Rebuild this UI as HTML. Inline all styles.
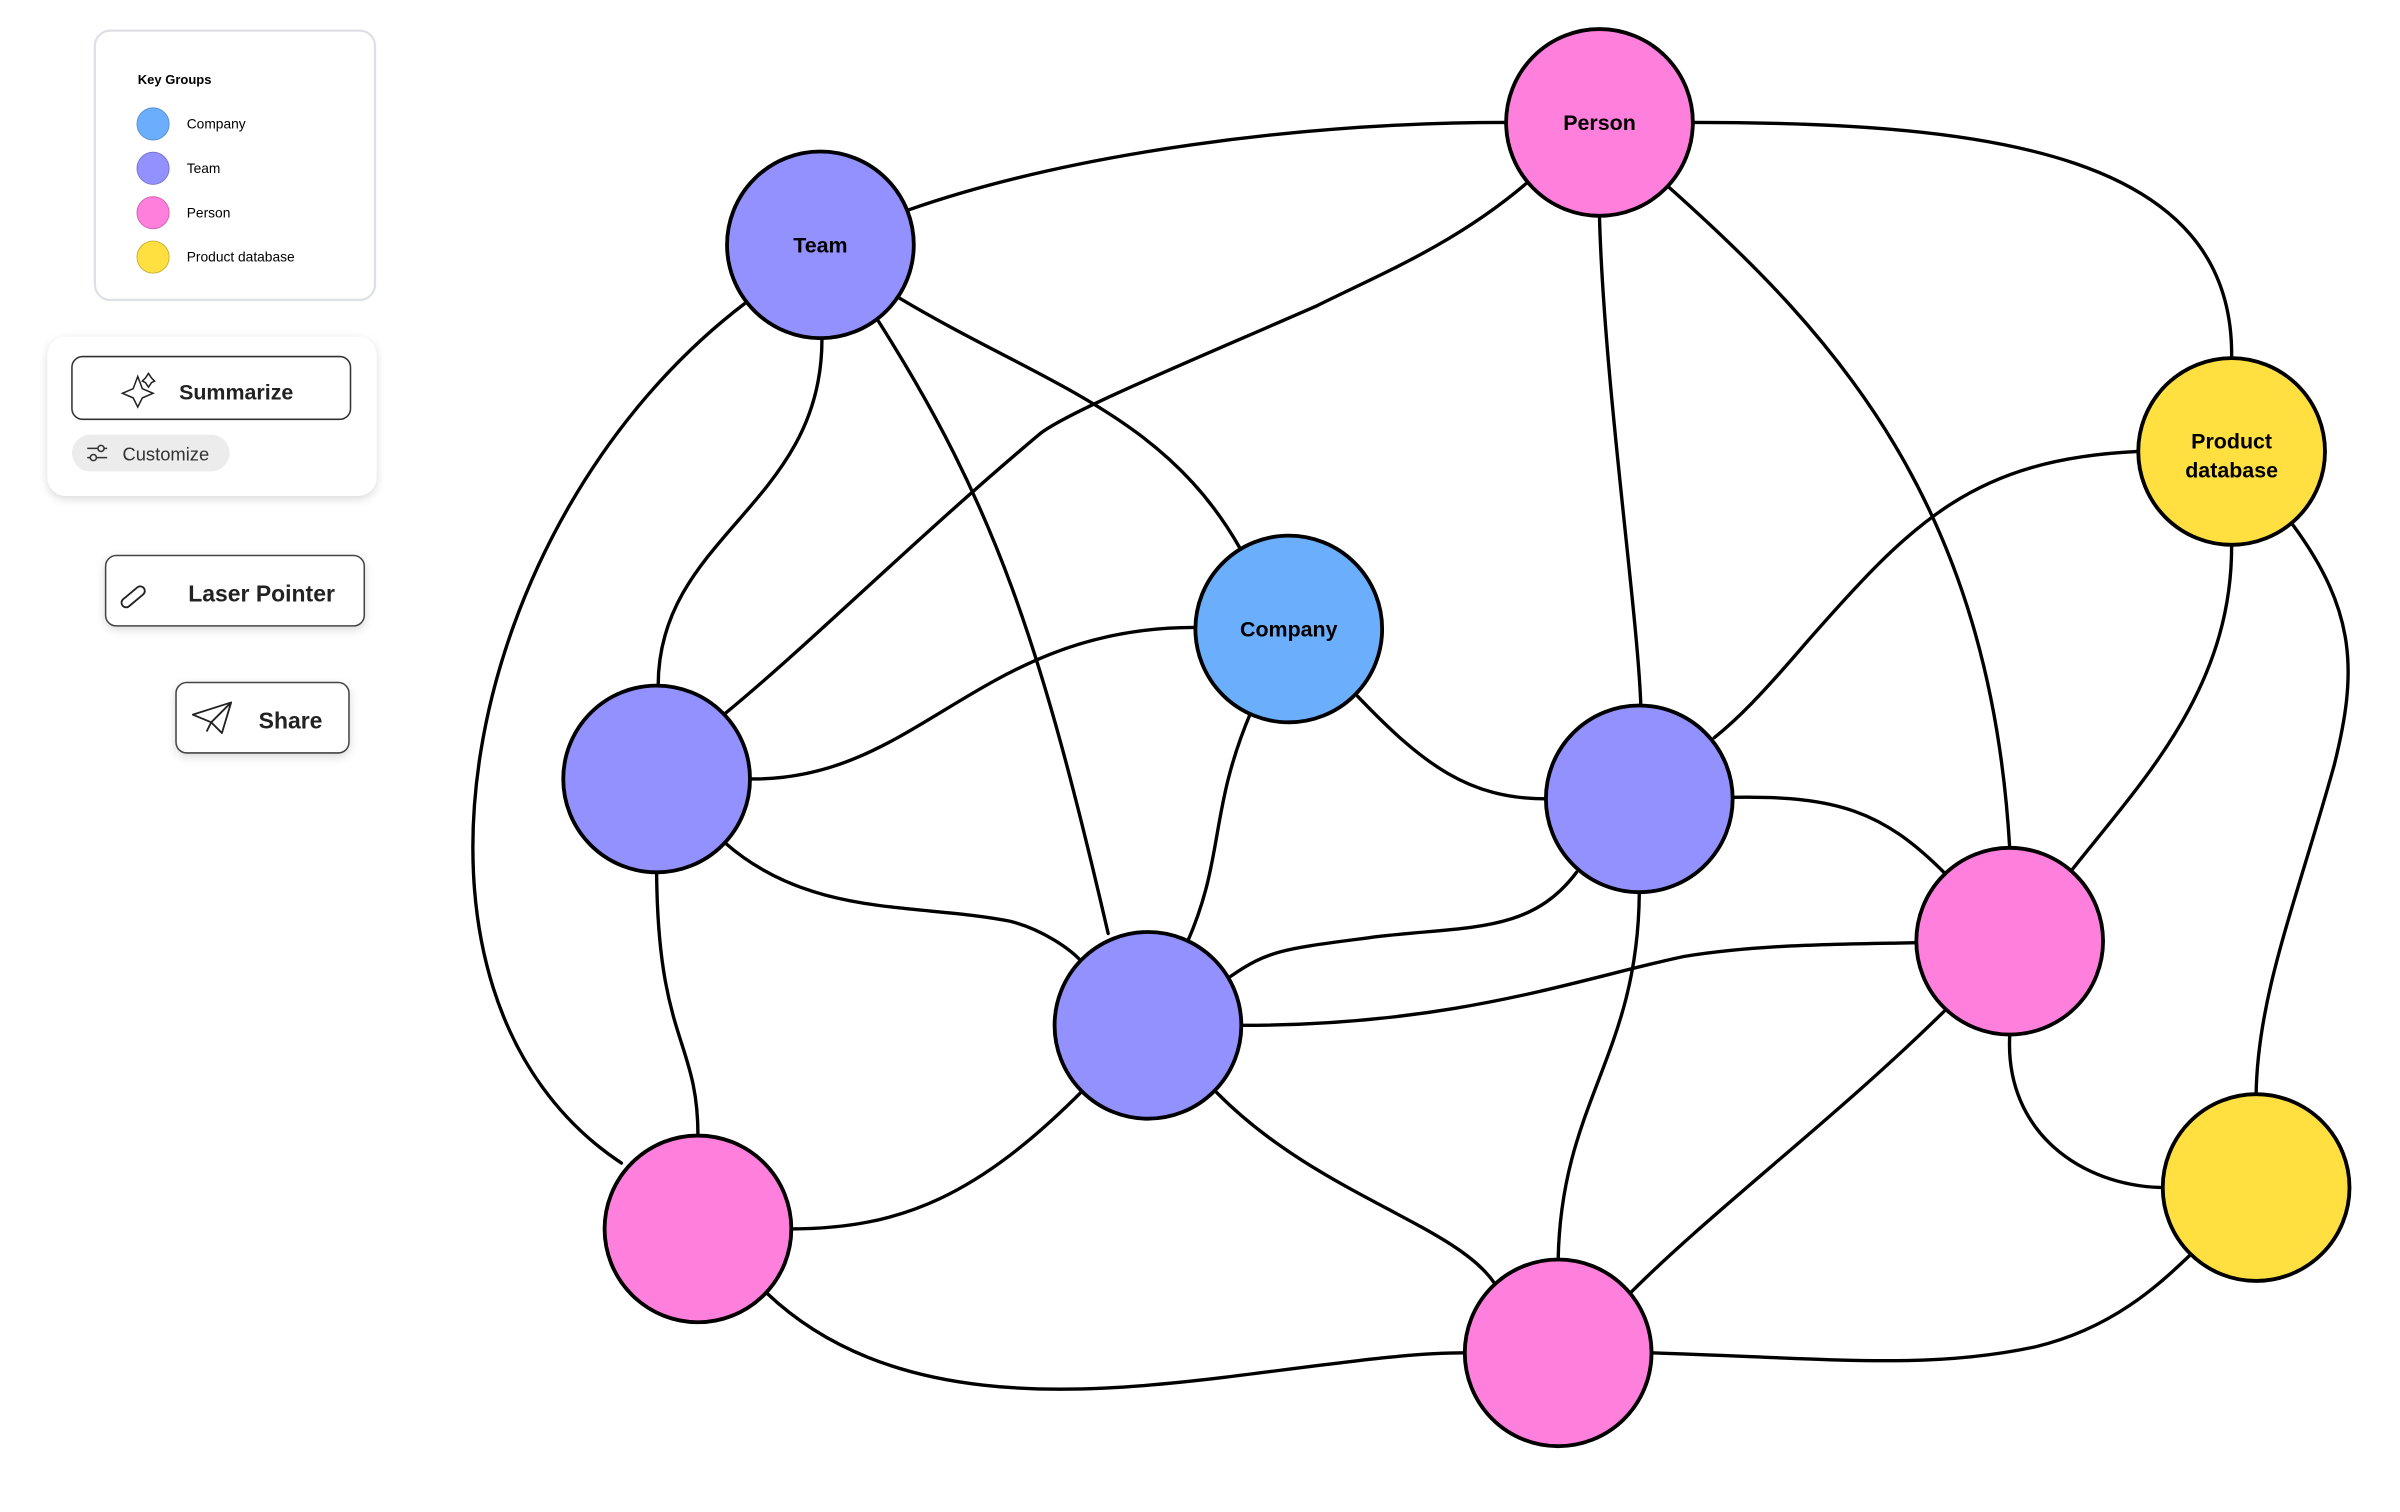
<!DOCTYPE html>
<html><head><meta charset="utf-8"><style>
html,body{margin:0;padding:0;background:#fff;width:2400px;height:1512px;overflow:hidden}
svg{display:block}
text{font-family:"Liberation Sans",sans-serif}
</style></head><body>
<svg width="2400" height="1512" viewBox="0 0 1568 988" preserveAspectRatio="none" xmlns="http://www.w3.org/2000/svg">
<defs>
<filter id="sh" x="-20%" y="-20%" width="140%" height="150%"><feDropShadow dx="0" dy="2" stdDeviation="3" flood-color="#000" flood-opacity="0.15"/></filter>
</defs>
<rect x="62" y="20" width="183" height="176" rx="10" fill="#fff" stroke="#dde1e6" stroke-width="1.5"/>
<text x="90" y="55" font-size="8.5" font-weight="bold">Key Groups</text>
<circle cx="100" cy="81" r="10.5" fill="#6aaefc" stroke="#5a8fd0" stroke-width="0.6"/>
<circle cx="100" cy="110" r="10.5" fill="#9391fd" stroke="#7774d0" stroke-width="0.6"/>
<circle cx="100" cy="139" r="10.5" fill="#ff80dc" stroke="#d060b0" stroke-width="0.6"/>
<circle cx="100" cy="168" r="10.5" fill="#ffe040" stroke="#c8b030" stroke-width="0.6"/>
<text x="122" y="84" font-size="9">Company</text>
<text x="122" y="113" font-size="9">Team</text>
<text x="122" y="142" font-size="9">Person</text>
<text x="122" y="171" font-size="9">Product database</text>

<rect x="31" y="220" width="215" height="104" rx="12" fill="#fff" filter="url(#sh)"/>
<rect x="47" y="233" width="182" height="41" rx="7" fill="#fff" stroke="#333" stroke-width="1"/>
<path d="M90,246 L93,254 L100,257 L93,260 L90,266 L87,260 L80,257 L87,254 Z" fill="none" stroke="#222" stroke-width="1"/>
<path d="M97,244 L99,247 L101,249 L99,250 L97,253 L95,250 L93,249 L95,247 Z" fill="none" stroke="#222" stroke-width="1"/>
<text x="117" y="261" font-size="14" font-weight="bold" fill="#222">Summarize</text>
<rect x="47" y="284" width="103" height="24" rx="12" fill="#ececec"/>
<path d="M57,293 H70 M57,299 H70" stroke="#333" stroke-width="1"/>
<circle cx="66" cy="293" r="2" fill="#ececec" stroke="#333" stroke-width="1"/>
<circle cx="61" cy="299" r="2" fill="#ececec" stroke="#333" stroke-width="1"/>
<text x="80" y="301" font-size="12" fill="#333">Customize</text>

<rect x="69" y="363" width="169" height="46" rx="7" fill="#fff" stroke="#444" stroke-width="1" filter="url(#sh)"/>
<rect x="78" y="387" width="18" height="6" rx="3" transform="rotate(-40 87 390)" fill="none" stroke="#222" stroke-width="1.2"/>
<text x="123" y="393" font-size="15" font-weight="bold" fill="#222">Laser Pointer</text>

<rect x="115" y="446" width="113" height="46" rx="7" fill="#fff" stroke="#444" stroke-width="1" filter="url(#sh)"/>
<path d="M126,467 L151,459 L145,479 L138,472 Z M138,472 L151,459 M138,472 L135,478" fill="none" stroke="#222" stroke-width="1.2" stroke-linejoin="round"/>
<text x="169" y="476" font-size="15" font-weight="bold" fill="#222">Share</text>

<g fill="none" stroke="#000" stroke-width="2.2" stroke-linecap="round">
<path d="M594,137 C700,100 850,80 985,80"/>
<path d="M1107,80 C1300,80 1460,100 1458,234"/>
<path d="M997,120 C950,160 900,180 860,200 C780,235 700,268 680,283 C600,350 530,420 474,466"/>
<path d="M1045,142 C1048,250 1070,400 1072,461"/>
<path d="M1090,122 C1200,220 1300,330 1313,554"/>
<path d="M537,222 C537,330 430,350 430,448"/>
<path d="M574,210 C650,330 680,420 724,610"/>
<path d="M588,195 C680,250 760,270 810,358"/>
<path d="M487,198 C300,340 240,650 406,760"/>
<path d="M491,509 C600,510 640,410 780,410"/>
<path d="M474,551 C530,600 600,590 660,602 C680,607 700,620 708,630"/>
<path d="M429,571 C430,680 456,680 456,742"/>
<path d="M817,466 C790,530 800,560 776,615"/>
<path d="M887,455 C930,500 960,522 1010,522"/>
<path d="M1397,295 C1290,300 1250,340 1180,420 C1150,455 1135,470 1120,482"/>
<path d="M1458,357 C1458,450 1400,510 1354,568"/>
<path d="M1498,343 C1540,400 1540,440 1525,500 C1500,590 1475,650 1474,715"/>
<path d="M1133,521 C1200,520 1230,530 1270,570"/>
<path d="M1030,570 C1000,610 960,605 900,612 C840,620 830,620 804,638"/>
<path d="M1071,584 C1070,690 1020,720 1018,823"/>
<path d="M812,670 C950,670 1030,640 1100,625 C1150,617 1200,617 1252,616"/>
<path d="M707,713 C640,780 590,803 517,803"/>
<path d="M795,714 C860,780 950,800 976,838"/>
<path d="M1313,677 C1310,740 1360,775 1413,776"/>
<path d="M1271,660 C1200,730 1120,790 1065,845"/>
<path d="M501,845 C580,920 700,912 800,900 C880,890 920,884 957,884"/>
<path d="M1079,884 C1200,888 1260,895 1330,880 C1380,868 1410,840 1431,820"/>
</g>

<g stroke="#000" stroke-width="2.5">
<circle cx="1045" cy="80" r="61" fill="#ff80dc"/>
<circle cx="536" cy="160" r="61" fill="#9391fd"/>
<circle cx="1458" cy="295" r="61" fill="#ffe040"/>
<circle cx="842" cy="411" r="61" fill="#6aaefc"/>
<circle cx="429" cy="509" r="61" fill="#9391fd"/>
<circle cx="1071" cy="522" r="61" fill="#9391fd"/>
<circle cx="1313" cy="615" r="61" fill="#ff80dc"/>
<circle cx="750" cy="670" r="61" fill="#9391fd"/>
<circle cx="1474" cy="776" r="61" fill="#ffe040"/>
<circle cx="456" cy="803" r="61" fill="#ff80dc"/>
<circle cx="1018" cy="884" r="61" fill="#ff80dc"/>
</g>
<g font-size="14" font-weight="bold" text-anchor="middle" fill="#000">
<text x="1045" y="85">Person</text>
<text x="536" y="165">Team</text>
<text x="1458" y="293">Product</text>
<text x="1458" y="312">database</text>
<text x="842" y="416">Company</text>
</g>
</svg>
</body></html>
